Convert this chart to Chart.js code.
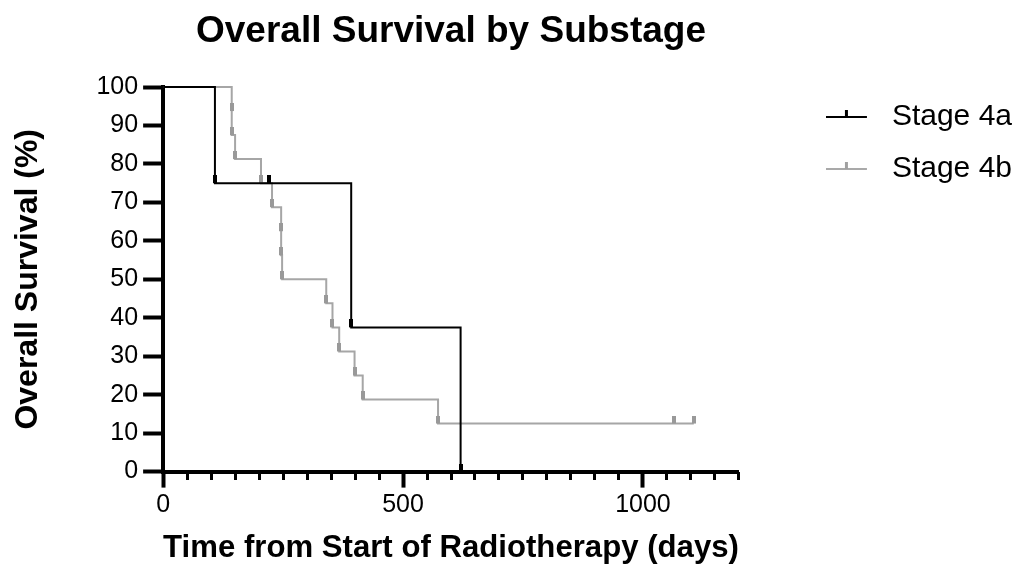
<!DOCTYPE html>
<html>
<head>
<meta charset="utf-8">
<title>Overall Survival by Substage</title>
<script src="https://cdn.jsdelivr.net/npm/chart.js@4.4.1/dist/chart.umd.min.js"></script>
<style>
  html, body { margin: 0; padding: 0; background: #fff; }
  #wrap { width: 1022px; height: 570px; }
</style>
</head>
<body>
<div id="wrap"><canvas id="survival-chart" width="1022" height="570"></canvas></div>
<script>
// Kaplan-Meier steps (days, % surviving)
const seriesLabels = ['Stage 4a', 'Stage 4b'];
const stage4aDays = [0, 108, 221, 392, 620];
const stage4aSurvival = [100, 75, 75, 37.5, 0];
const stage4bDays = [0, 143, 143, 150, 204, 227, 246, 246, 248, 340, 353, 367, 399, 416, 573, 1065, 1106];
const stage4bSurvival = [100, 93.75, 87.5, 81.25, 75, 68.75, 62.5, 56.25, 50, 43.75, 37.5, 31.25, 25, 18.75, 12.5, 12.5, 12.5];

// axis ticks
const xMajorTicks = [0, 500, 1000];
const xMinorTicks = [0, 50, 100, 150, 200, 250, 300, 350, 400, 450, 500, 550, 600, 650, 700, 750, 800, 850, 900, 950, 1000, 1050, 1100, 1150, 1200];
const yTicks = [0, 10, 20, 30, 40, 50, 60, 70, 80, 90, 100];

const FONT = "'Liberation Sans', Arial, Helvetica, sans-serif";
Chart.defaults.font.family = FONT;
Chart.defaults.color = '#000';

// little vertical bar used as the point marker (sits on top of the line)
function makeTick(color) {
    const c = document.createElement('canvas');
    c.width = 4;
    c.height = 16;
    const g = c.getContext('2d');
    g.fillStyle = color;
    g.fillRect(0, 0, 4, 8);
    return c;
}

// legend symbol: line with a tick in the middle
function makeLegendIcon(lineColor, tickColor) {
    const c = document.createElement('canvas');
    c.width = 51;
    c.height = 16;
    const g = c.getContext('2d');
    g.fillStyle = lineColor;
    g.fillRect(0, 7, 41, 2);
    g.fillStyle = tickColor;
    g.fillRect(19, 1, 3, 7);
    return c;
}

const blackTick = makeTick('#000');
const grayTick = makeTick('#999');
const legendIcons = [makeLegendIcon('#000', '#000'), makeLegendIcon('#a9a9a9', '#a0a0a0')];

const toPoints = (xs, ys) => xs.map((x, i) => ({ x: x, y: ys[i] }));

const ctx = document.getElementById('survival-chart').getContext('2d');

new Chart(ctx, {
    type: 'line',
    data: {
        datasets: [
            {
                label: seriesLabels[0],
                data: toPoints(stage4aDays, stage4aSurvival),
                stepped: true,
                borderColor: '#000',
                borderWidth: 2,
                fill: false,
                clip: false,
                pointStyle: blackTick,
                pointRadius: (c) => c.dataIndex === 0 ? 0 : 4,
                xAxisID: 'x',
                yAxisID: 'y'
            },
            {
                label: seriesLabels[1],
                data: toPoints(stage4bDays, stage4bSurvival),
                stepped: true,
                borderColor: '#a6a6a6',
                borderWidth: 2,
                fill: false,
                clip: false,
                pointStyle: grayTick,
                pointRadius: (c) => c.dataIndex === 0 ? 0 : 4,
                xAxisID: 'x',
                yAxisID: 'y'
            }
        ]
    },
    options: {
        responsive: false,
        animation: false,
        events: [],
        layout: { padding: 0 },
        plugins: {
            title: {
                display: true,
                text: 'Overall Survival by Substage',
                fullSize: false,
                color: '#000',
                font: { size: 37, weight: 'bold' },
                padding: { top: 10, bottom: 32.6 }
            },
            legend: {
                display: true,
                position: 'right',
                align: 'start',
                maxWidth: 240,
                title: {
                    display: true,
                    text: ' ',
                    font: { size: 12 },
                    padding: { top: 65.6, bottom: 0 }
                },
                labels: {
                    usePointStyle: true,
                    pointStyleWidth: 51,
                    padding: 22,
                    color: '#000',
                    font: { size: 30 },
                    generateLabels: (chart) => {
                        const items = Chart.defaults.plugins.legend.labels.generateLabels(chart);
                        items.forEach((item, i) => {
                            item.pointStyle = legendIcons[i];
                            item.fontColor = '#000';
                        });
                        return items;
                    }
                }
            },
            tooltip: { enabled: false }
        },
        scales: {
            x: {
                type: 'linear',
                position: 'bottom',
                min: 0,
                max: 1200,
                afterBuildTicks: (s) => { s.ticks = xMajorTicks.map(v => ({ value: v })); },
                ticks: {
                    color: '#000',
                    font: { size: 25 },
                    padding: 3,
                    maxRotation: 0,
                    callback: (v) => String(v)
                },
                grid: {
                    drawOnChartArea: false,
                    tickLength: 16,
                    tickWidth: 4,
                    tickColor: '#000'
                },
                border: { color: '#000', width: 4 },
                title: {
                    display: true,
                    text: 'Time from Start of Radiotherapy (days)',
                    color: '#000',
                    font: { size: 32, weight: 'bold' },
                    padding: { top: 5, bottom: 3 }
                }
            },
            xMinor: {
                type: 'linear',
                axis: 'x',
                position: { y: 0 },
                min: 0,
                max: 1200,
                afterBuildTicks: (s) => { s.ticks = xMinorTicks.map(v => ({ value: v })); },
                ticks: { display: false },
                grid: {
                    drawOnChartArea: false,
                    tickLength: 8,
                    tickWidth: 3,
                    tickColor: '#000'
                },
                border: { display: false }
            },
            y: {
                type: 'linear',
                position: 'left',
                min: 0,
                max: 100,
                afterBuildTicks: (s) => { s.ticks = yTicks.map(v => ({ value: v })); },
                ticks: {
                    color: '#000',
                    font: { size: 25 },
                    padding: 5
                },
                grid: {
                    drawOnChartArea: false,
                    tickLength: 20,
                    tickWidth: 4,
                    tickColor: '#000'
                },
                border: { color: '#000', width: 4 },
                title: {
                    display: true,
                    text: 'Overall Survival (%)',
                    color: '#000',
                    font: { size: 32, weight: 'bold' },
                    padding: { top: 9, bottom: 44 }
                }
            },
            // empty axis that only keeps the gap between plot and legend
            ySpacer: {
                type: 'linear',
                axis: 'y',
                position: 'right',
                min: 0,
                max: 100,
                ticks: { display: false },
                grid: { display: false },
                border: { display: false },
                afterFit: (s) => { s.width = 65; }
            }
        }
    }
});
</script>
</body>
</html>
